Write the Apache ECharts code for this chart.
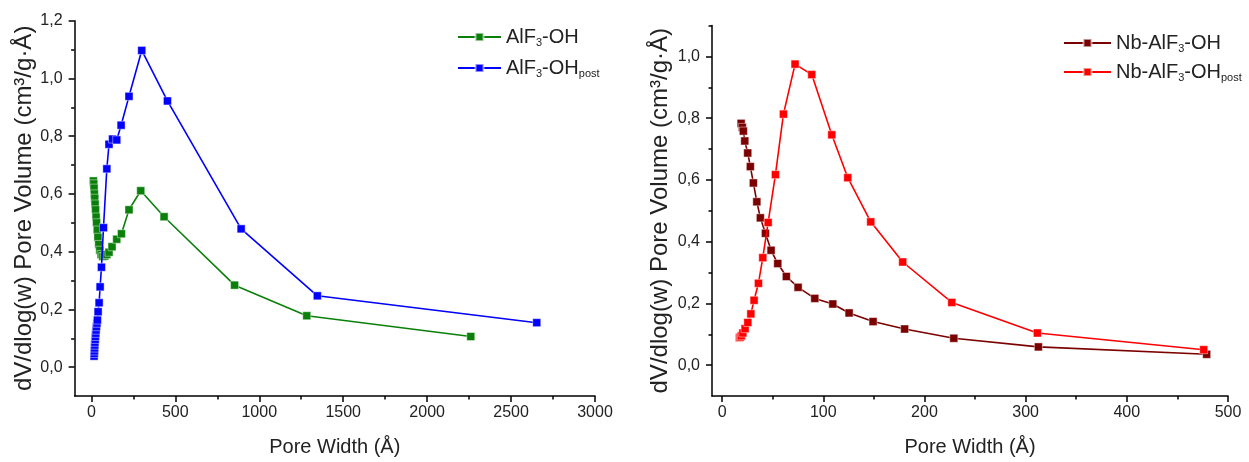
<!DOCTYPE html>
<html>
<head>
<meta charset="utf-8">
<script src="https://cdn.jsdelivr.net/npm/echarts@6/dist/echarts.min.js"></script>
<style>
html,body{margin:0;padding:0;background:#fff;}
#chart{width:1249px;height:462px;}
</style>
</head>
<body>
<div id="chart"></div>
<script>
// ---- Data ----
// Left panel: AlF3-OH
var alfX = [12,14,16,18,20,22,25,28,31,35,39,44,50,58,68,80,92,105,123,151,179,224,294,433,853,1283,2260];
var alfY = [0.645,0.635,0.62,0.60,0.585,0.565,0.545,0.52,0.50,0.475,0.45,0.425,0.405,0.39,0.383,0.385,0.39,0.398,0.417,0.443,0.462,0.545,0.611,0.521,0.284,0.178,0.106];
// Left panel: AlF3-OH post
var alfPostX = [16,17,18,19,20,21,23,24,26,28,30,33,36,40,46,52,60,72,92,105,126,151,177,224,300,453,892,1346,2653];
var alfPostY = [0.038,0.047,0.056,0.066,0.076,0.086,0.096,0.106,0.117,0.128,0.14,0.152,0.163,0.192,0.223,0.278,0.346,0.483,0.687,0.772,0.79,0.787,0.838,0.938,1.097,0.922,0.479,0.247,0.154];
// Right panel: Nb-AlF3-OH
var nbX = [18.8,20,21,22.4,25.3,27.9,30.9,34.3,37.8,42.8,48.4,55,63.5,75.1,91.6,109.4,125.5,149.2,180.4,229,312.6,478.9];
var nbY = [0.783,0.77,0.758,0.726,0.687,0.643,0.590,0.529,0.477,0.427,0.372,0.329,0.287,0.252,0.216,0.198,0.169,0.141,0.117,0.087,0.059,0.035];
// Right panel: Nb-AlF3-OH post
var nbPostX = [17.1,18,19,20.5,22.7,25.4,28.4,31.6,35.9,40.2,45.5,52.7,60.6,72.1,88.6,108.4,124.2,146.9,178.5,227,311.6,476];
var nbPostY = [0.089,0.091,0.095,0.104,0.118,0.138,0.166,0.210,0.265,0.348,0.462,0.617,0.813,0.975,0.941,0.746,0.607,0.464,0.334,0.203,0.104,0.050];

// Tick values
var leftXMajor = [0,500,1000,1500,2000,2500,3000];
var leftXMinor = [250,750,1250,1750,2250,2750];
var leftYMajor = [0,0.2,0.4,0.6,0.8,1.0,1.2];
var leftYMinor = [0.1,0.3,0.5,0.7,0.9,1.1];
var rightXMajor = [0,100,200,300,400,500];
var rightXMinor = [50,150,250,350,450];
var rightYMajor = [0,0.2,0.4,0.6,0.8,1.0];
var rightYMinor = [0.1,0.3,0.5,0.7,0.9,1.1];

var seriesNames = ['AlF3-OH','AlF3-OH post','Nb-AlF3-OH','Nb-AlF3-OH post'];
var legendLabels = {
  'AlF3-OH': 'AlF{sub|3}-OH',
  'AlF3-OH post': 'AlF{sub|3}-OH{sub|post}',
  'Nb-AlF3-OH': 'Nb-AlF{sub|3}-OH',
  'Nb-AlF3-OH post': 'Nb-AlF{sub|3}-OH{sub|post}'
};
var colors = ['#0a800a','#0000ff','#7b0000','#ff0000'];

function pairs(xs, ys){ return xs.map(function(x,i){ return [x, ys[i]]; }); }

var FONT = 'Liberation Sans, Arial, sans-serif';
var yName = 'dV/dlog(w) Pore Volume (cm\u00b3/g\u00b7\u00c5)';
var xName = 'Pore Width (\u00c5)';
function fmtY(v){ return v.toFixed(1).replace('.', ','); }
function fmtX(v){ return String(Math.round(v)); }

var lineStyleAxis = {color:'#000', width:1.5};

function mainX(grid, min, max, major){
  return {
    type:'value', gridIndex:grid, min:min, max:max, position:'bottom',
    name:xName, nameLocation:'middle', nameGap:41,
    nameTextStyle:{fontFamily:FONT, fontSize:20, color:'#222'},
    axisLine:{show:true, onZero:false, lineStyle:lineStyleAxis},
    axisTick:{show:true, inside:false, length:6, customValues:major, lineStyle:{color:'#000', width:1.5}},
    axisLabel:{show:true, customValues:major, margin:9, fontFamily:FONT, fontSize:16, color:'#222', formatter:fmtX},
    splitLine:{show:false}
  };
}
function minorX(grid, min, max, minor){
  return {
    type:'value', gridIndex:grid, min:min, max:max, position:'bottom',
    axisLine:{show:false, onZero:false},
    axisTick:{show:true, inside:false, length:3.5, customValues:minor, lineStyle:{color:'#000', width:1.5}},
    axisLabel:{show:false}, splitLine:{show:false}
  };
}
function mainY(grid, min, max, major, gap){
  return {
    type:'value', gridIndex:grid, min:min, max:max, position:'left',
    name:yName, nameLocation:'middle', nameGap:gap,
    nameTextStyle:{fontFamily:FONT, fontSize:24, color:'#222'},
    axisLine:{show:true, onZero:false, lineStyle:lineStyleAxis},
    axisTick:{show:true, inside:false, length:6, customValues:major, lineStyle:{color:'#000', width:1.5}},
    axisLabel:{show:true, customValues:major, margin:12, fontFamily:FONT, fontSize:16, color:'#222', formatter:fmtY},
    splitLine:{show:false}
  };
}
function minorY(grid, min, max, minor){
  return {
    type:'value', gridIndex:grid, min:min, max:max, position:'left',
    axisLine:{show:false, onZero:false},
    axisTick:{show:true, inside:false, length:3.5, customValues:minor, lineStyle:{color:'#000', width:1.5}},
    axisLabel:{show:false}, splitLine:{show:false}
  };
}

function mkSeries(name, xs, ys, idx, axisIdx){
  return {
    name:name, type:'line', xAxisIndex:axisIdx, yAxisIndex:axisIdx,
    data:pairs(xs, ys), symbol:'rect', symbolSize:8, showSymbol:true,
    lineStyle:{color:colors[idx], width:1.6},
    itemStyle:{color:colors[idx], borderColor:'rgba(255,255,255,0.55)', borderWidth:0.8},
    emphasis:{disabled:true}, animation:false, z:idx===1||idx===3?3:2
  };
}

var legendText = {
  fontFamily:FONT, fontSize:20, color:'#222',
  rich:{ sub:{fontFamily:FONT, fontSize:11, color:'#222', verticalAlign:'bottom', padding:[11,0,0,0]} }
};
function legendFormatter(n){ return legendLabels[n]; }

var option = {
  backgroundColor:'#fff',
  animation:false,
  grid:[
    {left:74.6, top:20.7, width:520.4, height:378.3, containLabel:false},
    {left:712, top:25.5, width:516, height:374, containLabel:false}
  ],
  xAxis:[
    mainX(0, -100, 3000, leftXMajor),
    mainX(1, -10, 500, rightXMajor),
    minorX(0, -100, 3000, leftXMinor),
    minorX(1, -10, 500, rightXMinor)
  ],
  yAxis:[
    mainY(0, -0.1, 1.2, leftYMajor, 38),
    mainY(1, -0.1, 1.1, rightYMajor, 40),
    minorY(0, -0.1, 1.2, leftYMinor),
    minorY(1, -0.1, 1.1, rightYMinor)
  ],
  legend:[
    {data:[seriesNames[0], seriesNames[1]], left:452, top:22, orient:'vertical', itemGap:10,
     itemWidth:43, itemHeight:10, textStyle:legendText, formatter:legendFormatter, selectedMode:false},
    {data:[seriesNames[2], seriesNames[3]], left:1058, top:28, orient:'vertical', itemGap:8,
     itemWidth:47, itemHeight:10, textStyle:legendText, formatter:legendFormatter, selectedMode:false}
  ],
  series:[
    mkSeries(seriesNames[0], alfX, alfY, 0, 0),
    mkSeries(seriesNames[1], alfPostX, alfPostY, 1, 0),
    mkSeries(seriesNames[2], nbX, nbY, 2, 1),
    mkSeries(seriesNames[3], nbPostX, nbPostY, 3, 1)
  ]
};

var chart = echarts.init(document.getElementById('chart'), null, {renderer:'canvas'});
chart.setOption(option);
</script>
</body>
</html>
